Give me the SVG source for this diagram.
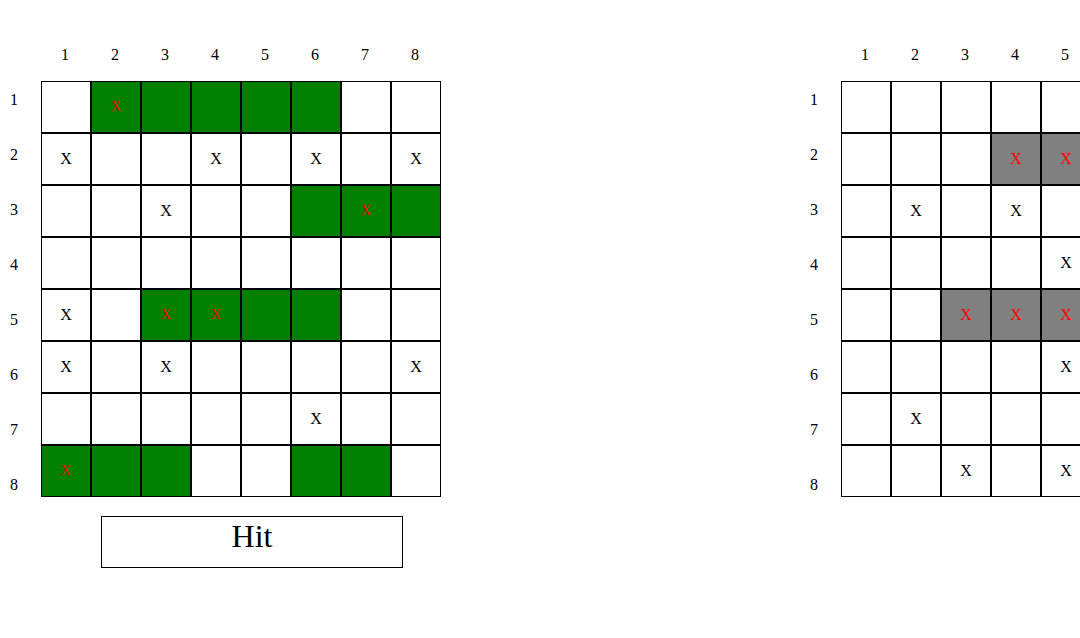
<svg xmlns="http://www.w3.org/2000/svg" width="1080" height="638" viewBox="0 0 1080 638">
<style>
text{font-family:"Liberation Serif","Times New Roman",serif;text-anchor:middle}
.lbl{font-size:16px;fill:#000}
.c{fill:#fff;stroke:#000;stroke-width:1}
.g{fill:#008000;stroke:#000;stroke-width:1}
.s{fill:#808080;stroke:#000;stroke-width:1}
.x{font-size:16px;fill:#000}
.rx{font-size:16px;fill:#f00}
.rxs{font-size:14px;fill:#f00}
</style>
<rect width="1080" height="638" fill="#fff"/>
<defs>
<g id="blankrow">
<rect class="c" x="0.5" y="0.5" width="49" height="51"/>
<rect class="c" x="50.5" y="0.5" width="49" height="51"/>
<rect class="c" x="100.5" y="0.5" width="49" height="51"/>
<rect class="c" x="150.5" y="0.5" width="49" height="51"/>
<rect class="c" x="200.5" y="0.5" width="49" height="51"/>
<rect class="c" x="250.5" y="0.5" width="49" height="51"/>
<rect class="c" x="300.5" y="0.5" width="49" height="51"/>
<rect class="c" x="350.5" y="0.5" width="49" height="51"/>
</g>
</defs>
<g id="left-board">
<g>
<text class="lbl" x="65" y="60">1</text><text class="lbl" x="115" y="60">2</text><text class="lbl" x="165" y="60">3</text><text class="lbl" x="215" y="60">4</text><text class="lbl" x="265" y="60">5</text><text class="lbl" x="315" y="60">6</text><text class="lbl" x="365" y="60">7</text><text class="lbl" x="415" y="60">8</text>
<text class="lbl" x="14" y="105">1</text><text class="lbl" x="14" y="160">2</text><text class="lbl" x="14" y="215">3</text><text class="lbl" x="14" y="270">4</text><text class="lbl" x="14" y="325">5</text><text class="lbl" x="14" y="380">6</text><text class="lbl" x="14" y="435">7</text><text class="lbl" x="14" y="490">8</text>
</g>
<g transform="translate(41,81)">
<use href="#blankrow" y="0"/><use href="#blankrow" y="52"/><use href="#blankrow" y="104"/><use href="#blankrow" y="156"/><use href="#blankrow" y="208"/><use href="#blankrow" y="260"/><use href="#blankrow" y="312"/><use href="#blankrow" y="364"/>
<rect class="g" x="50.5" y="0.5" width="49" height="51"/><rect class="g" x="100.5" y="0.5" width="49" height="51"/><rect class="g" x="150.5" y="0.5" width="49" height="51"/><rect class="g" x="200.5" y="0.5" width="49" height="51"/><rect class="g" x="250.5" y="0.5" width="49" height="51"/>
<rect class="g" x="250.5" y="104.5" width="49" height="51"/><rect class="g" x="300.5" y="104.5" width="49" height="51"/><rect class="g" x="350.5" y="104.5" width="49" height="51"/>
<rect class="g" x="100.5" y="208.5" width="49" height="51"/><rect class="g" x="150.5" y="208.5" width="49" height="51"/><rect class="g" x="200.5" y="208.5" width="49" height="51"/><rect class="g" x="250.5" y="208.5" width="49" height="51"/>
<rect class="g" x="0.5" y="364.5" width="49" height="51"/><rect class="g" x="50.5" y="364.5" width="49" height="51"/><rect class="g" x="100.5" y="364.5" width="49" height="51"/><rect class="g" x="250.5" y="364.5" width="49" height="51"/><rect class="g" x="300.5" y="364.5" width="49" height="51"/>
</g>
<g>
<text class="rxs" x="116" y="111">X</text>
<text class="x" x="66" y="164">X</text><text class="x" x="216" y="164">X</text><text class="x" x="316" y="164">X</text><text class="x" x="416" y="164">X</text>
<text class="x" x="166" y="216">X</text><text class="rxs" x="366" y="215">X</text>
<text class="x" x="66" y="320">X</text><text class="rxs" x="166" y="319">X</text><text class="rxs" x="216" y="319">X</text>
<text class="x" x="66" y="372">X</text><text class="x" x="166" y="372">X</text><text class="x" x="416" y="372">X</text>
<text class="x" x="316" y="424">X</text>
<text class="rxs" x="66" y="475">X</text>
</g>
</g>
<g id="status">
<rect x="101.5" y="516.5" width="301" height="51" fill="#fff" stroke="#000" stroke-width="1"/>
<text x="252" y="547" font-size="32" fill="#000">Hit</text>
</g>
<g id="right-board">
<text class="lbl" x="865" y="60">1</text><text class="lbl" x="915" y="60">2</text><text class="lbl" x="965" y="60">3</text><text class="lbl" x="1015" y="60">4</text><text class="lbl" x="1065" y="60">5</text>
<text class="lbl" x="814" y="105">1</text><text class="lbl" x="814" y="160">2</text><text class="lbl" x="814" y="215">3</text><text class="lbl" x="814" y="270">4</text><text class="lbl" x="814" y="325">5</text><text class="lbl" x="814" y="380">6</text><text class="lbl" x="814" y="435">7</text><text class="lbl" x="814" y="490">8</text>
<g transform="translate(841,81)">
<use href="#blankrow" y="0"/><use href="#blankrow" y="52"/><use href="#blankrow" y="104"/><use href="#blankrow" y="156"/><use href="#blankrow" y="208"/><use href="#blankrow" y="260"/><use href="#blankrow" y="312"/><use href="#blankrow" y="364"/>
<rect class="s" x="150.5" y="52.5" width="49" height="51"/><rect class="s" x="200.5" y="52.5" width="49" height="51"/>
<rect class="s" x="100.5" y="208.5" width="49" height="51"/><rect class="s" x="150.5" y="208.5" width="49" height="51"/><rect class="s" x="200.5" y="208.5" width="49" height="51"/>
</g>
<g>
<text class="rx" x="1016" y="164">X</text><text class="rx" x="1066" y="164">X</text>
<text class="x" x="916" y="216">X</text><text class="x" x="1016" y="216">X</text>
<text class="x" x="1066" y="268">X</text>
<text class="rx" x="966" y="320">X</text><text class="rx" x="1016" y="320">X</text><text class="rx" x="1066" y="320">X</text>
<text class="x" x="1066" y="372">X</text>
<text class="x" x="916" y="424">X</text>
<text class="x" x="966" y="476">X</text><text class="x" x="1066" y="476">X</text>
</g>
</g>
</svg>
